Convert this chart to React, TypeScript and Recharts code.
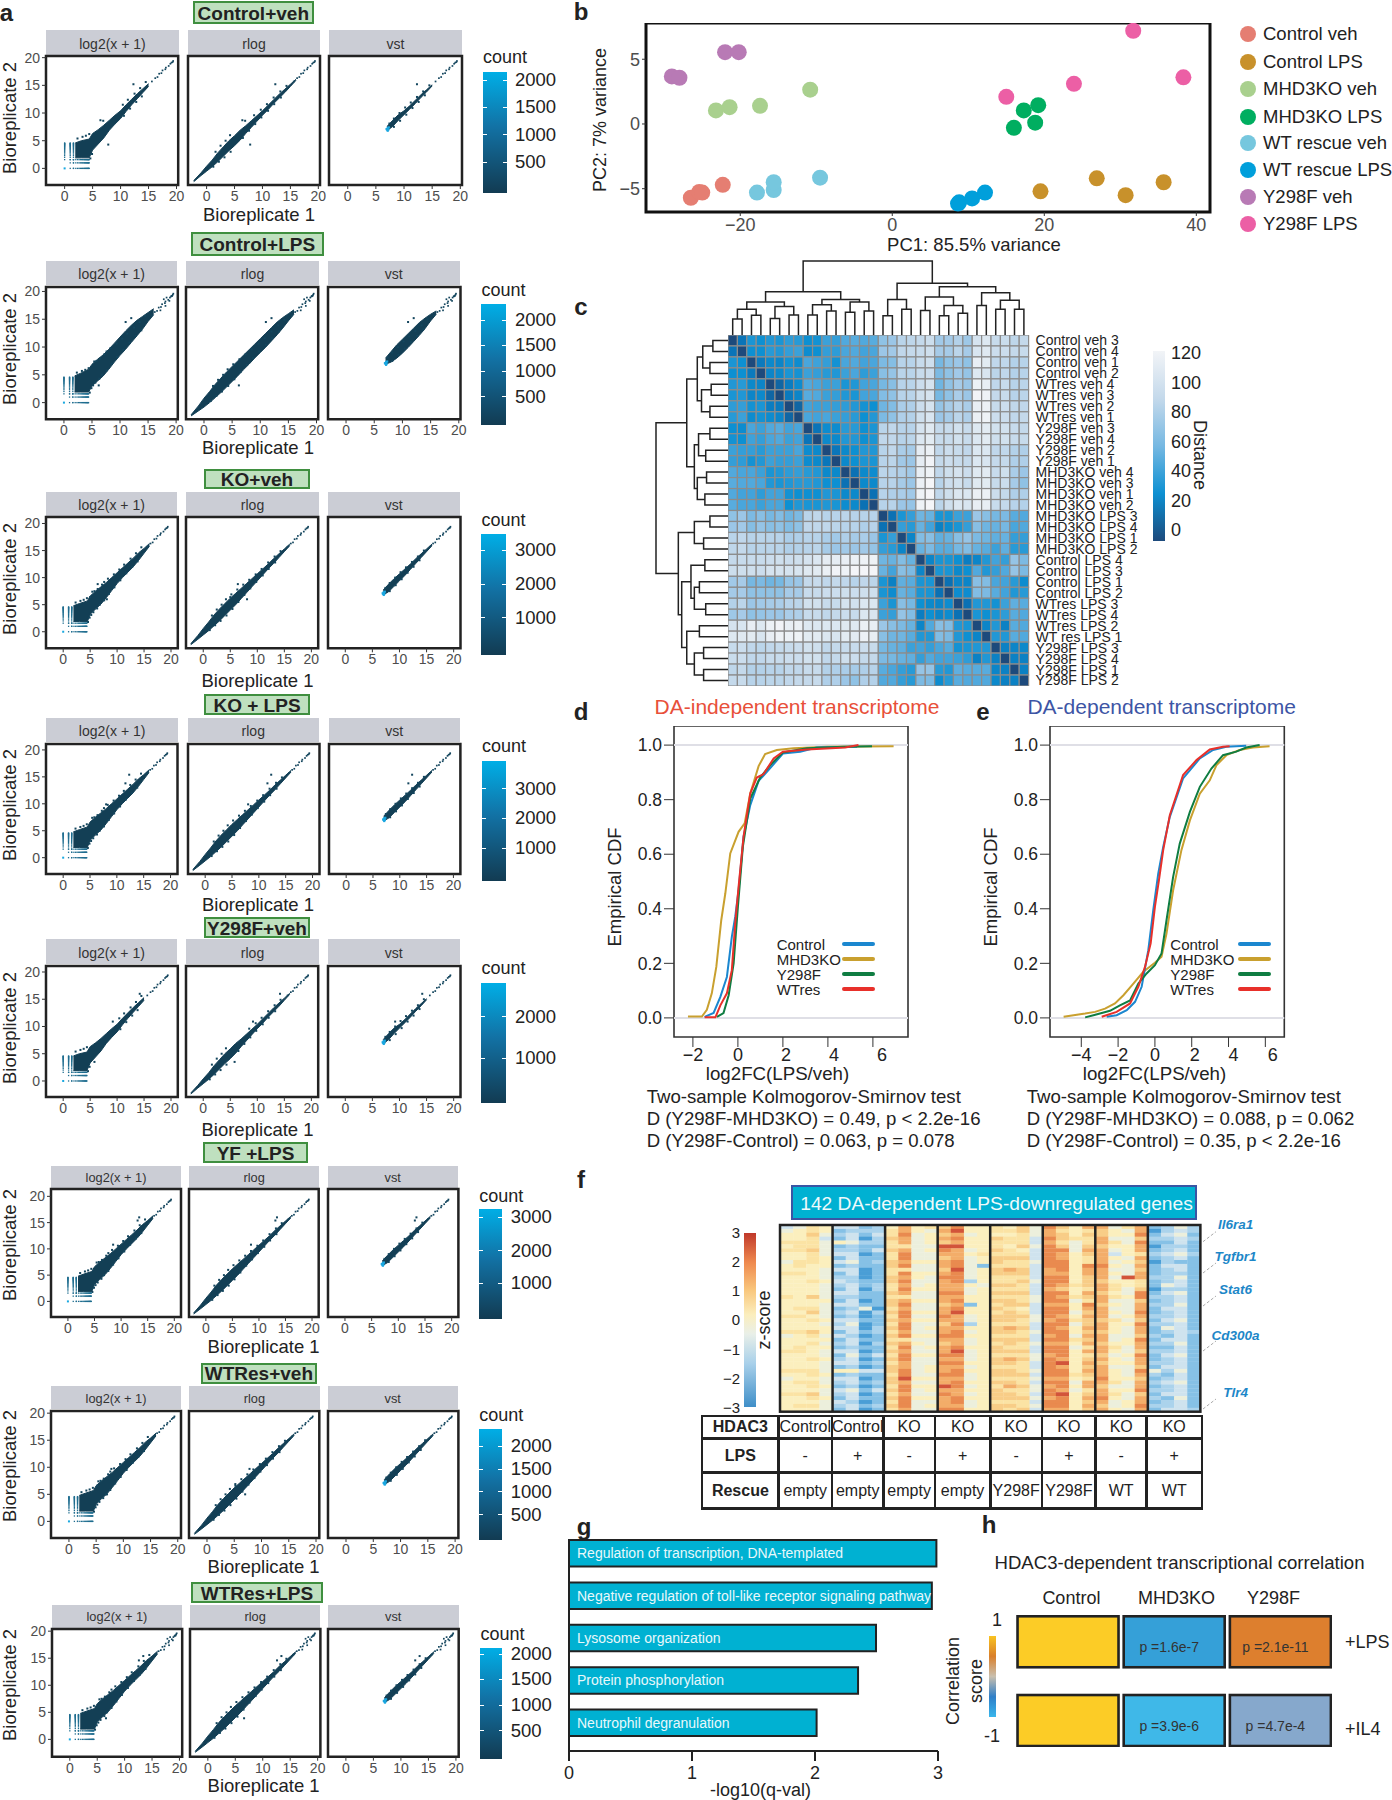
import {
  Area,
  Bar,
  BarChart,
  ComposedChart,
  LabelList,
  Line,
  LineChart,
  ReferenceArea,
  ReferenceLine,
  Scatter,
  ScatterChart,
  XAxis,
  YAxis,
} from "recharts";

const FONT = '"Liberation Sans", Arial, sans-serif';

// ---------- panel a: the hexbin clouds, read as [x, low, high] along the diagonal
const logThin = [[1.9,1.9,4.6],[3,1.9,5],[4.4,1.9,5.3],[5,3.3,6.3],[6,4.4,7],[7,5.5,7.8],[8,6.9,8.7],[9,8,9.6],[10,9,10.4],[11,10.3,11.5],[12,11.5,12.5],[13,12.6,13.5],[14,13.7,14.4],[15,14.8,15.3]];
const logMid = [[1.9,1.9,4.8],[3,1.9,5.2],[4.5,1.9,5.7],[5,3.2,6.6],[6,4.2,7.5],[7,5.1,8.3],[8,6.3,9.1],[9,7.6,10],[10,8.9,10.9],[11,10,11.8],[12,11,12.7],[13,12,13.6],[14,13.2,14.6],[15,14.5,15.4],[16,15.8,16.3]];
const logWide = [[1.9,1.9,4.8],[3,1.9,5.3],[4.4,1.9,6],[5,3,6.9],[6,3.9,7.8],[7,4.8,8.6],[8,6,9.6],[9,7.3,10.7],[10,8.5,11.8],[11,9.6,12.9],[12,10.8,13.9],[13,12,14.8],[14,13.2,15.5],[15,14.6,16.2],[16,15.8,16.9]];
const rlogThin = [[-2.3,-2.4,-2.2],[-1,-1.3,-0.8],[0,-0.5,0.4],[1,0.3,1.5],[2,1.2,2.8],[3,2.2,3.9],[4,3.2,5],[5,4.1,5.9],[6,5.1,6.9],[7,6.3,7.7],[8,7.4,8.6],[9,8.5,9.5],[10,9.6,10.4],[11,10.6,11.4],[12,11.7,12.4],[13,12.7,13.4],[14,13.7,14.3],[15,14.8,15.2],[16,15.9,16.1]];
const rlogMid = [[-2.3,-2.4,-2.2],[-1,-1.4,-0.7],[0,-0.6,0.6],[1,0.2,1.8],[2,1.1,3.1],[3,2,4.2],[4,3,5.2],[5,4,6.2],[6,5,7.1],[7,6.1,8],[8,7.2,8.9],[9,8.3,9.8],[10,9.4,10.7],[11,10.5,11.6],[12,11.6,12.5],[13,12.6,13.5],[14,13.7,14.4],[15,14.8,15.3],[16,15.9,16.2]];
const rlogWide = [[-2.3,-2.4,-2.2],[-1,-1.5,-0.6],[0,-0.8,0.8],[1,0,2],[2,0.9,3.3],[3,1.8,4.4],[4,2.8,5.5],[5,3.8,6.5],[6,4.8,7.5],[7,5.9,8.5],[8,6.9,9.5],[9,8,10.5],[10,9,11.5],[11,10,12.5],[12,11.1,13.5],[13,12.2,14.5],[14,13.4,15.3],[15,14.7,16],[16,15.9,16.7]];
const vstThin = [[7,6.8,7.6],[8,7.6,8.7],[9,8.7,9.7],[10,9.7,10.4],[11,10.7,11.3],[12,11.7,12.3],[13,12.8,13.3],[14,13.8,14.2],[15,14.9,15.1]];
const vstMid = [[7,6.8,7.7],[8,7.4,8.8],[9,8.4,9.8],[10,9.4,10.7],[11,10.4,11.6],[12,11.5,12.5],[13,12.6,13.5],[14,13.7,14.4],[15,14.8,15.3],[16,15.9,16.2]];
const vstWide = [[7,6.9,8],[8,7.3,9.2],[9,8,10.4],[10,8.9,11.4],[11,9.9,12.4],[12,11,13.4],[13,12.1,14.4],[14,13.3,15.2],[15,14.7,15.9],[16,15.9,16.5]];
const cloudSets = { thin: [logThin, rlogThin, vstThin], mid: [logMid, rlogMid, vstMid], wide: [logWide, rlogWide, vstWide] };
const rowCloud = ["thin", "wide", "mid", "mid", "thin", "mid", "mid", "mid"];

// stray hexagons on the rim of the clouds
const logEdge = [[5.4,7.4],[5.8,7.5],[6.4,7.9],[7.2,8.7],[7.6,9.2],[8.3,9.8],[9.4,10.6],[10.4,11.5],[11.3,12.4],[12.5,13.5],[13.5,14.5],[14.5,15.6],[5.2,3.1],[5.6,3.6],[6.3,4.3],[6.8,5],[7.6,5.8],[8.5,7],[9.5,8.2],[10.6,9.5],[11.7,10.8],[12.8,12],[13.8,13],[4.6,1.8],[4.9,2.6],[2.3,5.4],[3.2,5.7],[3.8,5.9],[4.4,6.2]];
const rlogEdge = [[1.6,3],[2.5,4.1],[3.4,5],[4.2,6],[5.2,6.9],[6.3,7.8],[7.4,8.7],[8.5,9.6],[9.7,10.6],[10.8,11.6],[12,12.8],[13.2,13.9],[14.3,14.9],[1.2,0.3],[2.2,1.2],[3.2,2],[4.3,3],[5.4,4.2],[6.5,5.5],[7.6,6.8],[8.7,8],[9.8,9.2],[11,10.4],[12.1,11.6],[13.3,12.8]];
const vstEdge = [[7.4,8.1],[8.2,9],[9.2,10],[10.2,11],[11.2,11.9],[12.3,12.9],[13.4,13.9],[14.5,15],[8.2,7.5],[9.3,8.6],[10.4,9.7],[11.5,10.9],[12.6,12],[13.7,13.2]];
const edgeSets = [logEdge, rlogEdge, vstEdge];

// low count values of log2(x + 1) are discrete
const lowLevels = [1.58,2,2.32,2.58,2.81,3,3.17,3.32,3.46,3.58,3.7,3.81,3.91,4,4.09,4.17,4.25,4.32,4.39,4.46,4.52,4.58];
const lowColumns = [0, 1, 1.58];
const lowRows = [0, 1, 1.58];
const tailDots = [[15.6,15.7],[16.2,16.3],[16.6,16.5],[16.9,17.1],[17.3,17.2],[17.5,17.7],[18,17.9],[18.1,18.2],[18.6,18.5],[18.9,18.9],[19.1,19.1],[19.3,19.2],[19.4,19.4]];
const tailSpread = [[17.8,18.6],[18.3,18.9],[18.8,18.3],[19.2,19.2],[17.2,16.6],[19.5,19.6],[18.1,17.4]];
const vstHot = [[7,7],[7.2,7],[7.1,7.3],[6.9,7.1],[7.3,7.4],[7.1,6.8]];
const rowOutliers = [
  [[12.3,15.2],[6.4,8.7],[6.9,8.6],[7.8,4.3]],
  [[12,15.2],[11,14.5],[6.2,3.1]],
  [[6.4,8.8],[8.1,6],[5,6.4]],
  [[12.3,15.4],[11.6,13.8],[8,9.9]],
  [[14.2,16],[9.2,10.9],[5.8,3.5]],
  [[13.4,16],[13.1,15.4],[8.5,10.8]],
  [[5.2,6.6],[7.8,9.7],[7,5]],
  [[13.4,15.4],[12.6,14.6],[6.6,3.9]],
];
const rowTitles = ["Control+veh", "Control+LPS", "KO+veh", "KO + LPS", "Y298F+veh", "YF +LPS", "WTRes+veh", "WTRes+LPS"];
const facetNames = ["log2(x + 1)", "rlog", "vst"];
const facetTicks = [0, 5, 10, 15, 20];

const aLayout = [
  { box: [193, 1, 313.6, 24], strip: [30, 55], py: [56, 185], xs: [[46.4,178.6],[188,320],[329,462]], lx: [483,507], ly: [72,192.7], countY: 57, tickX: 515, ticks: [["2000",80],["1500",107],["1000",134.7],["500",162]], xlab: [259,215], ylabY: 117.5, dx: [-3.33,20.3], dy: [-3,20.3], sf: 14 },
  { box: [191, 231.7, 323.6, 256], strip: [260.7, 285], py: [286.7, 419], xs: [[45.7,177.5],[186.4,318.6],[327.5,460]], lx: [481.4,505.7], ly: [304,425], countY: 290, tickX: 515, ticks: [["2000",320],["1500",345],["1000",371],["500",396.7]], xlab: [258,448], ylabY: 349, dx: [-3.2,20.3], dy: [-3,20.8], sf: 14 },
  { box: [204, 468.7, 310, 489], strip: [491.7, 515.7], py: [517, 648.3], xs: [[45.7,177.5],[186.4,318.6],[327.5,460]], lx: [481.4,505.7], ly: [534,655], countY: 520, tickX: 515, ticks: [["3000",550],["2000",584],["1000",617.7]], xlab: [257.5,681], ylabY: 579, dx: [-3.19,21.26], dy: [-3.06,21.2], sf: 14 },
  { box: [204, 694.3, 310, 715], strip: [718.3, 742.3], py: [744, 874], xs: [[46.4,177.9],[187.5,319],[328.6,460]], lx: [482,506], ly: [760.7,881], countY: 745.7, tickX: 515, ticks: [["3000",788.7],["2000",818.3],["1000",848.3]], xlab: [258,905], ylabY: 805, dx: [-3.2,21.3], dy: [-3.03,21.1], sf: 14 },
  { box: [204, 917.3, 310, 938.3], strip: [939.3, 964], py: [965.7, 1096.7], xs: [[45.7,177.5],[186.4,318.6],[327.5,460]], lx: [481.4,505.7], ly: [982.7,1103], countY: 968.3, tickX: 515, ticks: [["2000",1016.7],["1000",1058.3]], xlab: [257.5,1130], ylabY: 1027.5, dx: [-3.19,21.26], dy: [-2.94,21.1], sf: 14 },
  { box: [203, 1142.3, 308, 1163.3], strip: [1166, 1188.3], py: [1189.3, 1317.3], xs: [[51,181],[189.3,319],[327.5,457.9]], lx: [479.3,501.8], ly: [1209,1319.3], countY: 1195.7, tickX: 510.7, ticks: [["3000",1217.3],["2000",1250.7],["1000",1283.3]], xlab: [263.6,1346.7], ylabY: 1245, dx: [-3.18,21.26], dy: [-2.97,21.4], sf: 12.8 },
  { box: [201, 1362.7, 316.8, 1384], strip: [1386, 1409.3], py: [1410.7, 1537.7], xs: [[51,181],[189.3,319.6],[327.5,457.9]], lx: [479.3,501.8], ly: [1429,1540], countY: 1415, tickX: 510.7, ticks: [["2000",1446],["1500",1469],["1000",1491.7],["500",1514.7]], xlab: [263.6,1567.3], ylabY: 1466, dx: [-3.3,20.6], dy: [-3.07,20.4], sf: 12.8 },
  { box: [191, 1581.7, 323, 1603.3], strip: [1605, 1627.7], py: [1629, 1756.7], xs: [[51.8,182],[190,320.4],[327.9,458.6]], lx: [480.4,502.5], ly: [1647.7,1759.3], countY: 1634, tickX: 510.7, ticks: [["2000",1654],["1500",1679.3],["1000",1705],["500",1730.7]], xlab: [263.6,1785.7], ylabY: 1685, dx: [-3.25,20.5], dy: [-3.2,20.4], sf: 12.8 },
];

// ---------- panel b
const pcaGroups = ["Control veh", "Control LPS", "MHD3KO veh", "MHD3KO LPS", "WT rescue veh", "WT rescue LPS", "Y298F veh", "Y298F LPS"];
const pcaColors = ["#e57e72", "#c8912b", "#a9d08e", "#00ae60", "#76c7de", "#009fdb", "#b87ab5", "#ec5fa5"];
const pcaPoints = [
  [[-26.5,-5.7],[-25.4,-5.25],[-25,-5.3],[-22.3,-4.7]],
  [[19.5,-5.2],[26.9,-4.2],[30.7,-5.5],[35.7,-4.5]],
  [[-23.2,1.05],[-21.4,1.3],[-17.4,1.4],[-10.8,2.65]],
  [[16,-0.3],[17.3,1.05],[18.8,0.1],[19.2,1.45]],
  [[-17.8,-5.3],[-15.6,-5.1],[-15.6,-4.5],[-9.5,-4.15]],
  [[8.65,-6.15],[8.8,-6.05],[10.5,-5.75],[12.2,-5.3]],
  [[-29,3.67],[-28,3.57],[-22,5.55],[-20.2,5.55]],
  [[15,2.1],[23.9,3.1],[31.7,7.2],[38.3,3.6]],
];

// ---------- panel c: upper triangle of the sample distances, row i starts at column i
const sampleLabels = ["Control veh 3","Control veh 4","Control veh 1","Control veh 2","WTres veh 4","WTres veh 3","WTres veh 2","WTres veh 1","Y298F veh 3","Y298F veh 4","Y298F veh 2","Y298F veh 1","MHD3KO veh 4","MHD3KO veh 3","MHD3KO veh 1","MHD3KO veh 2","MHD3KO LPS 3","MHD3KO LPS 4","MHD3KO LPS 1","MHD3KO LPS 2","Control LPS 4","Control LPS 3","Control LPS 1","Control LPS 2","WTres LPS 3","WTres LPS 4","WTres LPS 2","WT res LPS 1","Y298F LPS 3","Y298F LPS 4","Y298F LPS 1","Y298F LPS 2"];
const distUpper = [
  [0,15,34,30,36,34,40,38,30,32,44,42,50,52,50,52, 68,72,85,87,90,95,74,75,82,73,100,105,92,93,87,90],
  [0,30,30,38,36,42,44,28,30,42,40,48,50,46,48, 72,74,88,90,92,96,76,76,86,76,102,106,94,94,90,92],
  [0,18,26,24,32,28,48,45,42,32,48,50,46,48, 62,65,84,84,92,96,60,68,72,68,112,108,88,88,82,84],
  [0,24,26,34,32,44,42,38,36,44,48,40,44, 66,70,85,85,92,94,62,68,74,70,105,102,86,88,82,84],
  [0,10,20,28,50,48,44,44,34,36,46,48, 60,66,84,85,94,100,58,68,76,72,115,112,88,92,84,86],
  [0,18,24,52,50,44,42,36,34,46,48, 64,68,84,85,96,100,60,68,78,72,118,116,90,92,84,86],
  [0,10,46,44,44,42,40,36,32,30, 58,64,78,80,94,100,70,76,84,78,112,115,92,94,88,88],
  [0,48,46,48,44,42,38,30,36, 62,68,80,82,96,102,72,76,86,80,114,116,94,94,88,90],
  [0,15,28,28,38,38,30,34, 85,88,84,84,100,106,90,92,98,92,105,108,98,98,92,90],
  [0,26,26,36,36,30,34, 88,88,84,86,104,108,92,92,98,92,104,108,96,98,92,92],
  [0,16,26,30,36,36, 84,88,78,76,110,114,88,94,92,88,104,104,88,88,82,80],
  [0,26,30,34,34, 84,86,74,72,110,118,90,94,92,90,104,102,90,90,80,80],
  [0,14,26,28, 86,84,80,74,112,116,88,96,100,94,106,108,92,96,78,72],
  [0,26,26, 84,84,76,72,114,120,84,94,98,92,106,108,92,94,76,68],
  [0,14, 84,80,78,74,116,124,88,96,104,104,114,115,94,90,80,80],
  [0, 84,84,72,70,116,126,86,96,104,102,112,112,92,90,84,82],
  [0,14,34,42,58,56,34,34,44,44,72,66,60,62,52,50],
  [0,42,38,56,46,22,28,34,42,66,58,56,60,48,50],
  [0,24,64,66,54,56,66,70,62,58,54,56,42,42],
  [0,56,62,52,52,60,64,56,52,44,54,38,38],
  [0,24,34,34,30,20,24,36,46,42,70,62],
  [0,34,34,26,30,50,36,42,50,70,62],
  [0,14,24,24,66,64,48,46,38,28],
  [0,28,28,64,62,52,46,36,38],
  [0,14,36,36,32,44,54,52],
  [0,34,30,34,40,52,50],
  [0,24,36,22,52,50],
  [0,36,36,52,50],
  [0,22,24,26],
  [0,22,22],
  [0,22],
  [0],
];
const distStops = [[0,"#1d4a7c"],[15,"#0a74b8"],[30,"#0d90d2"],[45,"#3ea2da"],[60,"#76b8e2"],[75,"#a4cae8"],[90,"#c4d9eb"],[105,"#dde8f1"],[120,"#f4f5f8"]];
const distTicks = [["120",353],["100",383],["80",412],["60",441.7],["40",471],["20",500.7],["0",530]];

// dendrograms: [height, left, right], leaves are row numbers
const topTree = [218,[128,[98,[77,[48,0,1],[59,2,3]],[85,[50,4,5],[60,6,7]]],[105,[90,[60,8,9],[72,10,11]],[98,[68,12,13],[72,14,15]]]],[153,[105,[58,16,17],[77,18,19]],[143,[113,[73,20,21],[88,[58,22,23],[65,24,25]]],[125,[88,26,27],[103,[77,28,29],[77,30,31]]]]]];
const leftTree = [173,[100,[75,[62,[38,0,1],[45,2,3]],[65,[42,4,5],[45,6,7]]],[82,[72,[45,8,9],[55,10,11]],[75,[53,12,13],[57,14,15]]]],[120,[82,[45,16,17],[60,18,19]],[112,[90,[57,20,21],[82,[70,22,23],[55,24,25]]],[100,[70,26,27],[82,[60,28,29],[60,30,31]]]]]];

// ---------- panels d, e: empirical CDFs as [log2FC, F]
const cdfNames = ["Control", "MHD3KO", "Y298F", "WTres"];
const cdfColors = ["#1b87cf", "#c9a02f", "#0f7d42", "#e8302a"];
const indepControl = [[-1.48,.004],[-1.08,.018],[-.78,.077],[-.49,.15],[-.27,.297],[-.12,.37],[.03,.468],[.25,.664],[.55,.78],[.92,.869],[1.29,.902],[2,.969],[2.77,.976],[3.5,.991],[5.3,.994]];
const indepKO = [[-2.22,.005],[-1.6,.005],[-1.38,.03],[-1.16,.09],[-.96,.187],[-.74,.358],[-.56,.456],[-.34,.603],[.03,.682],[.3,.713],[.55,.823],[.92,.923],[1.21,.967],[1.73,.982],[2.47,.988],[3.96,.994],[6.92,.996]];
const indepY298F = [[-.93,.004],[-.64,.018],[-.41,.083],[-.19,.2],[0,.407],[.22,.627],[.55,.804],[.99,.881],[1.44,.927],[2,.973],[3.07,.988],[4.7,.994],[5.96,.996]];
const indepWT = [[-1.48,.002],[-1,.002],[-.78,.046],[-.49,.09],[-.27,.175],[-.12,.346],[.03,.48],[.25,.664],[.55,.823],[.84,.881],[1.14,.894],[1.59,.951],[2,.976],[3.07,.984],[4.77,.991],[5.36,1]];
const depControl = [[-2.62,.004],[-2.08,.01],[-1.53,.028],[-1.08,.059],[-.72,.114],[-.36,.248],[-.09,.395],[.18,.529],[.45,.627],[.81,.737],[1.53,.878],[2.44,.951],[3.16,.982],[3.88,.994],[4.96,.998]];
const depKO = [[-4.96,.004],[-4.42,.01],[-3.79,.016],[-3.25,.022],[-2.71,.034],[-2.17,.053],[-1.71,.083],[-1.17,.126],[-.63,.169],[0,.202],[.36,.224],[.63,.309],[.99,.468],[1.44,.615],[1.9,.724],[2.44,.822],[2.98,.871],[3.34,.926],[3.88,.963],[4.6,.982],[5.32,.991],[6.23,.996]];
const depY298F = [[-3.79,.002],[-3.34,.01],[-2.44,.026],[-1.9,.046],[-1.35,.064],[-.9,.126],[-.45,.163],[0,.193],[.36,.236],[.63,.358],[.99,.517],[1.35,.639],[1.9,.755],[2.44,.847],[3.07,.914],[3.7,.963],[4.42,.976],[4.96,.991],[5.69,1]];
const depWT = [[-2.89,.004],[-2.08,.022],[-1.35,.053],[-.9,.114],[-.54,.187],[-.23,.273],[0,.407],[.22,.505],[.45,.615],[.81,.743],[1.53,.89],[2.26,.945],[2.98,.984],[3.7,.994],[4.06,.996]];

// ---------- panel f: z-score level of each sample, one string per gene band
const zBands = [
  "3465 3312 5856 7955 6574 9758 8468 1242",
  "4565 1222 6854 8a55 6674 8656 7548 0232",
  "5574 2313 6945 7845 5564 8757 7559 1341",
  "5563 1302 7845 8955 7663 9766 8447 2232",
  "6664 5422 6845 7855 6663 8646 8649 1131",
  "5664 1211 6644 aa55 6574 9747 7558 0221",
  "6674 2213 7845 9845 7653 9948 8458 1231",
  "5564 3301 6944 8856 6663 9857 8356 2342",
  "5565 1311 6944 7845 7773 9856 8548 1231",
  "4665 3412 7855 8945 7664 9956 8457 0211",
  "5655 1211 7944 8941 6663 9959 9548 1331",
  "5554 3301 6644 7a45 7873 8958 8447 1231",
  "6654 1301 6955 8945 7773 8858 8548 1221",
  "5554 2201 7854 9945 6663 9957 84a8 2241",
  "5565 3211 7944 8925 6674 9957 7556 1231",
  "5554 2312 6845 8854 7763 9867 8656 1431",
  "5554 1302 6955 8845 6663 8756 8647 0221",
  "5554 3311 7844 9945 7773 9958 7549 1341",
  "6574 2211 6644 8855 6664 9867 8659 2231",
  "5555 1301 7855 8955 7764 9946 8447 1231",
  "5554 3311 7944 7815 6773 8859 7548 2241",
  "5664 1240 6844 8955 7653 9958 8448 1331",
  "5574 2302 7955 8a55 6763 9947 8549 1231",
  "6654 1201 6944 9845 7774 9858 8458 2231",
  "5565 3311 7855 8845 7764 8967 7647 1341",
  "5554 2401 6944 7925 6663 9947 8559 2231",
  "5555 3302 7945 8855 7873 9858 8548 1431",
  "6675 1312 6844 8945 7764 9957 7548 1232",
  "4564 3201 7955 9955 6663 8948 8447 2131",
  "5555 1311 6644 8845 7773 9967 8459 1331",
  "5564 2302 7854 7845 6764 8858 7558 2241",
  "5655 1211 6945 8955 7663 9946 8648 1131",
  "6654 3301 7844 8a45 7773 9958 8547 2231",
  "5554 1413 6955 9945 6664 8956 7459 1341",
  "5565 2301 7944 8845 7874 9857 8548 1231",
  "5554 3312 6844 9955 7763 9a58 7558 2231",
  "5554 1201 7845 8845 6663 9857 8447 1331",
  "6664 5533 7945 8955 7764 9958 8549 4241",
  "5565 1211 6944 9945 7773 9967 8548 2131",
  "4554 3301 7a55 8845 6664 8856 9557 1231",
  "5664 2312 7844 8955 7763 9948 8648 2341",
  "5565 1201 6955 a945 6874 8958 7448 1231",
  "5554 3413 7945 8855 7664 9846 8559 2231",
  "6674 2301 6844 9845 7763 9a57 8647 1331",
  "5565 1311 7955 8955 7774 8958 9548 2141",
  "5554 3201 6944 8945 6663 9957 8458 1231",
  "5664 2312 7945 8845 7764 9958 7459 2231",
  "5554 1301 6844 9955 7673 8857 8548 1332",
].map((row) => row.replace(/ /g, ""));
const zPalette = ["#4a9ed6", "#86c1e6", "#abd3ec", "#cfe3ee", "#ecefdc", "#fbefbe", "#fbe3a4", "#f8cd87", "#f3ad69", "#e98a4f", "#d2543a"];
const zTicks = [["3",1232],["2",1261],["1",1290],["0",1319],["−1",1348.7],["−2",1378],["−3",1406.7]];
const zGroupEdges = [4, 8, 12, 16, 20, 24, 28];
const genes = [["Il6ra1",1225,1241.7],["Tgfbr1",1257,1273],["Stat6",1290,1306],["Cd300a",1335.7,1351],["Tlr4",1392.7,1409]];
const tableRows = [
  ["HDAC3", "Control", "Control", "KO", "KO", "KO", "KO", "KO", "KO"],
  ["LPS", "-", "+", "-", "+", "-", "+", "-", "+"],
  ["Rescue", "empty", "empty", "empty", "empty", "Y298F", "Y298F", "WT", "WT"],
];
const tableX = [702.2, 778.5, 832, 883.4, 934.8, 990.3, 1042, 1095.7, 1146.7, 1201.8];
const tableY = [1416, 1438.3, 1472.7, 1508.3];

// ---------- panel g
const goTerms = ["Regulation of transcription, DNA-templated", "Negative regulation of toll-like receptor signaling pathway", "Lysosome organization", "Protein phosphorylation", "Neutrophil degranulation"];
const goValues = [2.987, 2.95, 2.496, 2.35, 2.013];

// ---------- panel h
const corrColumns = ["Control", "MHD3KO", "Y298F"];
const corrRows = ["+LPS", "+IL4"];
const corrFills = [["#fccc26", "#35a0d8", "#dd7f2e"], ["#fccc26", "#3fb8e8", "#86a8cc"]];
const corrPvals = [["", "p =1.6e-7", "p =2.1e-11"], ["", "p =3.9e-6", "p =4.7e-4"]];

function hexToRgb(h) {
  return [1, 3, 5].map((i) => parseInt(h.slice(i, i + 2), 16));
}
function distColor(v) {
  for (let i = 1; i < distStops.length; i++) {
    if (v <= distStops[i][0]) {
      const [a, ca] = distStops[i - 1];
      const [b, cb] = distStops[i];
      const t = (v - a) / (b - a);
      const x = hexToRgb(ca);
      const y = hexToRgb(cb);
      return `rgb(${x.map((c, k) => Math.round(c + (y[k] - c) * t)).join(",")})`;
    }
  }
  return distStops[distStops.length - 1][1];
}

// one bracket per merge: up from the left child, across, down to the right child
function treeLinks(node, out) {
  if (typeof node === "number") return { pos: node + 0.5, h: 0 };
  const a = treeLinks(node[1], out);
  const b = treeLinks(node[2], out);
  out.push([[a.pos, a.h], [a.pos, node[0]], [b.pos, node[0]], [b.pos, b.h]]);
  return { pos: (a.pos + b.pos) / 2, h: node[0] };
}

function T({ x, y, children, size = 14, color = "#222", bold = false, italic = false, rot = 0, anchor = "middle" }: any) {
  const tx = anchor === "middle" ? "-50%" : anchor === "end" ? "-100%" : "0";
  return (
    <div
      style={{
        position: "absolute",
        left: x,
        top: y,
        transform: `translate(${tx}, -50%) rotate(${rot}deg)`,
        fontFamily: FONT,
        fontSize: size,
        fontWeight: bold ? "bold" : "normal",
        fontStyle: italic ? "italic" : "normal",
        color,
        whiteSpace: "nowrap",
        lineHeight: 1,
      }}
    >
      {children}
    </div>
  );
}

function Box({ x1, y1, x2, y2, style }: any) {
  return <div style={{ position: "absolute", left: x1, top: y1, width: x2 - x1, height: y2 - y1, boxSizing: "border-box", ...style }} />;
}

const dotShape = (fill, size = 1.7) => (p) => <rect x={p.cx - size / 2} y={p.cy - size / 2} width={size} height={size} fill={fill} />;

function Facet({ row, col }: any) {
  const L = aLayout[row];
  const [x1, x2] = L.xs[col];
  const [y1, y2] = L.py;
  const kind = rowCloud[row];
  const cloud = cloudSets[kind][col].map(([x, lo, hi]) => ({ x, band: [lo, hi] }));
  const tail = (row === 1 || row === 7 ? tailDots.concat(tailSpread) : tailDots).map(([x, y]) => ({ x, y }));
  const outliers = rowOutliers[row].filter(([x]) => col < 2 || x > 9).map(([x, y]) => ({ x, y }));
  const edge = edgeSets[col].filter(([x, y]) => kind !== "thin" || Math.abs(y - x) < 1.1 || x < 5).map(([x, y]) => ({ x, y }));
  const left = col === 0 ? 34 : 4;
  const lowDots = [];
  if (col === 0) {
    lowColumns.forEach((x) => lowLevels.forEach((y) => lowDots.push({ x, y })));
    lowRows.forEach((y) => lowLevels.slice(0, 19).forEach((x) => lowDots.push({ x, y })));
    lowColumns.slice(1).forEach((x) => lowRows.forEach((y) => lowDots.push({ x, y })));
  }
  return (
    <div style={{ position: "absolute", left: x1 - left, top: y1 - 6 }}>
      <ComposedChart
        width={x2 - x1 + left + 14}
        height={y2 - y1 + 6 + 26}
        data={cloud}
        margin={{ top: 6, right: 14, bottom: 0, left: col === 0 ? 0 : left }}
      >
        <XAxis dataKey="x" type="number" domain={L.dx} allowDataOverflow ticks={facetTicks} interval={0} height={26} tick={{ fill: "#4d4d4d", fontSize: 14, fontFamily: FONT }} tickSize={4} tickMargin={2} stroke="#333" axisLine={false} />
        <YAxis dataKey="y" type="number" domain={L.dy} allowDataOverflow ticks={facetTicks} interval={0} width={col === 0 ? 34 : 0} hide={col !== 0} tick={{ fill: "#4d4d4d", fontSize: 14, fontFamily: FONT }} tickSize={4} tickMargin={2} stroke="#333" axisLine={false} />
        <Area dataKey="band" type="linear" fill="#133f55" fillOpacity={1} stroke="#133f55" strokeWidth={1} dot={false} activeDot={false} isAnimationActive={false} />
        <Scatter data={edge} shape={dotShape("#14465e", 2)} isAnimationActive={false} />
        <Scatter data={tail} shape={dotShape("#14465e")} isAnimationActive={false} />
        <Scatter data={outliers} shape={dotShape("#14465e", 2)} isAnimationActive={false} />
        {col === 0 && <Scatter data={lowDots} shape={dotShape("#1f6d8f", 1.3)} isAnimationActive={false} />}
        {col === 0 && <Scatter data={[{ x: 0, y: 0 }]} shape={dotShape("#19a8e0", 2)} isAnimationActive={false} />}
        {col === 2 && <Scatter data={vstHot.map(([x, y]) => ({ x, y }))} shape={dotShape("#1aa7e0", 2.2)} isAnimationActive={false} />}
        <ReferenceArea x1={L.dx[0]} x2={L.dx[1]} y1={L.dy[0]} y2={L.dy[1]} fill="none" stroke="#222" strokeWidth={2.5} ifOverflow="visible" />
      </ComposedChart>
    </div>
  );
}

function FacetRow({ row }: any) {
  const L = aLayout[row];
  return (
    <>
      <Box x1={L.box[0]} y1={L.box[1]} x2={L.box[2]} y2={L.box[3]} style={{ background: "#bfe0bf", border: "2px solid #3f8f3f" }} />
      <T x={(L.box[0] + L.box[2]) / 2} y={(L.box[1] + L.box[3]) / 2} size={19} bold>{rowTitles[row]}</T>
      {L.xs.map(([x1, x2], i) => (
        <div key={i}>
          <Box x1={x1} y1={L.strip[0]} x2={x2} y2={L.strip[1]} style={{ background: "#cbcdd5" }} />
          <T x={(x1 + x2) / 2} y={(L.strip[0] + L.strip[1]) / 2 + 1} size={L.sf} color="#333">{facetNames[i]}</T>
          <Facet row={row} col={i} />
        </div>
      ))}
      <T x={10} y={L.ylabY} size={18.5} rot={-90}>Bioreplicate 2</T>
      <T x={L.xlab[0]} y={L.xlab[1]} size={18.5}>Bioreplicate 1</T>
      <T x={L.lx[0]} y={L.countY} size={18} anchor="start">count</T>
      <Box x1={L.lx[0]} y1={L.ly[0]} x2={L.lx[1]} y2={L.ly[1]} style={{ background: "linear-gradient(to bottom, #00aee6 0%, #1272a5 45%, #123b52 100%)" }} />
      {L.ticks.map(([t, y]) => (
        <div key={t}>
          <Box x1={L.lx[0]} y1={y - 0.5} x2={L.lx[0] + 4} y2={y + 0.5} style={{ background: "#fff" }} />
          <Box x1={L.lx[1] - 4} y1={y - 0.5} x2={L.lx[1]} y2={y + 0.5} style={{ background: "#fff" }} />
          <T x={L.tickX} y={y} size={18.5} anchor="start">{t}</T>
        </div>
      ))}
    </>
  );
}

function PcaPanel() {
  return (
    <>
      <div style={{ position: "absolute", left: 646 - 46, top: 23 }}>
        <ScatterChart width={564 + 46 + 14} height={189 + 26} margin={{ top: 0, right: 14, bottom: 0, left: 0 }}>
          <XAxis dataKey="x" type="number" domain={[-32.4, 41.8]} allowDataOverflow ticks={[-20, 0, 20, 40]} interval={0} height={26} tickSize={4} tickMargin={2} stroke="#333" axisLine={false} tick={{ fill: "#4d4d4d", fontSize: 18, fontFamily: FONT }} tickFormatter={(v) => String(v).replace("-", "−")} />
          <YAxis dataKey="y" type="number" domain={[-6.8, 7.8]} allowDataOverflow ticks={[-5, 0, 5]} interval={0} width={46} tickSize={4} tickMargin={2} stroke="#333" axisLine={false} tick={{ fill: "#4d4d4d", fontSize: 18, fontFamily: FONT }} tickFormatter={(v) => String(v).replace("-", "−")} />
          {pcaPoints.map((pts, i) => (
            <Scatter key={pcaGroups[i]} data={pts.map(([x, y]) => ({ x, y }))} isAnimationActive={false} shape={(p) => <circle cx={p.cx} cy={p.cy} r={8} fill={pcaColors[i]} />} />
          ))}
          <ReferenceArea x1={-32.4} x2={41.8} y1={-6.8} y2={7.8} fill="none" stroke="#111" strokeWidth={3} ifOverflow="visible" />
        </ScatterChart>
      </div>
      <T x={974} y={245} size={18.5}>PC1: 85.5% variance</T>
      <T x={600} y={120} size={18} rot={-90}>PC2: 7% variance</T>
      {pcaGroups.map((g, i) => {
        const y = [34, 62, 89, 117, 143, 170, 197, 224][i];
        return (
          <div key={g}>
            <Box x1={1240} y1={y - 8} x2={1256} y2={y + 8} style={{ background: pcaColors[i], borderRadius: "50%" }} />
            <T x={1263} y={y} size={18.5} anchor="start">{g}</T>
          </div>
        );
      })}
    </>
  );
}

function Dendro({ tree, vertical, left, top, width, height, maxH }: any) {
  const links = [];
  treeLinks(tree, links);
  return (
    <div style={{ position: "absolute", left: left - 1, top: top - 1 }}>
      <LineChart width={width + 2} height={height + 2} margin={{ top: 1, right: 1, bottom: 1, left: 1 }}>
        {vertical ? <XAxis type="number" dataKey="x" domain={[0, 32]} hide /> : <XAxis type="number" dataKey="x" domain={[0, maxH]} reversed hide />}
        {vertical ? <YAxis type="number" dataKey="y" domain={[0, maxH]} hide /> : <YAxis type="number" dataKey="y" domain={[0, 32]} reversed hide />}
        {links.map((path, i) => (
          <Line
            key={i}
            data={path.map(([pos, h]) => (vertical ? { x: pos, y: h } : { x: h, y: pos }))}
            dataKey="y"
            type="linear"
            stroke="#222"
            strokeWidth={1.5}
            dot={false}
            activeDot={false}
            isAnimationActive={false}
          />
        ))}
      </LineChart>
    </div>
  );
}

function DistPanel() {
  const cells = [];
  distUpper.forEach((r, i) =>
    r.forEach((v, k) => {
      const j = i + k;
      cells.push({ x: j + 0.5, y: i + 0.5, v });
      if (i !== j) cells.push({ x: i + 0.5, y: j + 0.5, v });
    })
  );
  const cw = 300.6 / 32;
  const ch = 351 / 32;
  return (
    <>
      <Dendro tree={topTree} vertical left={728.4} top={260.5} width={300.6} height={74.5} maxH={218} />
      <Dendro tree={leftTree} vertical={false} left={655.5} top={335} width={72.9} height={351} maxH={173} />
      <div style={{ position: "absolute", left: 728.4, top: 335 }}>
        <ScatterChart width={300.6 + 140} height={351} margin={{ top: 0, right: 0, bottom: 0, left: 0 }}>
          <XAxis dataKey="x" type="number" domain={[0, 32]} hide />
          <YAxis
            dataKey="y"
            type="number"
            domain={[0, 32]}
            reversed
            orientation="right"
            width={140}
            ticks={sampleLabels.map((_, i) => i + 0.5)}
            interval={0}
            tickLine={false}
            axisLine={false}
            tickSize={0}
            tickMargin={7}
            tick={{ fill: "#222", fontSize: 14, fontFamily: FONT }}
            tickFormatter={(v) => sampleLabels[Math.floor(v)]}
          />
          <Scatter data={cells} isAnimationActive={false} shape={(p) => <rect x={p.cx - cw / 2} y={p.cy - ch / 2} width={cw} height={ch} fill={distColor(p.payload.v)} stroke="#8c8c8c" strokeWidth={1.2} />} />
        </ScatterChart>
      </div>
      <Box x1={1152.6} y1={350.7} x2={1165} y2={541} style={{ background: `linear-gradient(to bottom, #f2f4f7 0%, #c4d9eb 25%, #76b8e2 50%, #0d90d2 75%, #1d4a7c 100%)` }} />
      {distTicks.map(([t, y]) => <T key={t} x={1171} y={y} size={18} anchor="start">{t}</T>)}
      <T x={1200} y={455} size={18} rot={90}>Distance</T>
    </>
  );
}

const tickShift = (shifts) => (p) => (
  <text x={p.x + (shifts[p.payload.value] || 0)} y={p.y + 12} textAnchor="middle" fill="#222" fontSize={18} fontFamily={FONT}>
    {String(p.payload.value).replace("-", "−")}
  </text>
);

function CdfPanel({ left, width, domain, xTicks, shifts, series, title, titleColor, titleX, ks, ksX, labX, ylX, legendText, legendLine, letterX, letter }: any) {
  const yDomain = [-0.07, 1.07];
  return (
    <>
      <T x={letterX} y={712} size={24} bold>{letter}</T>
      <T x={titleX} y={706} size={21} color={titleColor}>{title}</T>
      <div style={{ position: "absolute", left: left - 44, top: 725.7 }}>
        <LineChart width={width + 44 + 12} height={311 + 30} margin={{ top: 0, right: 12, bottom: 0, left: 0 }}>
          <XAxis dataKey="x" type="number" domain={domain} allowDataOverflow ticks={xTicks} interval={0} height={30} tickSize={10} stroke="#333" axisLine={false} tick={tickShift(shifts)} />
          <YAxis dataKey="y" type="number" domain={yDomain} allowDataOverflow ticks={[0, 0.2, 0.4, 0.6, 0.8, 1]} interval={0} width={44} tickSize={10} tickMargin={2} stroke="#333" axisLine={false} tick={{ fill: "#222", fontSize: 17.5, fontFamily: FONT }} tickFormatter={(v) => v.toFixed(1)} />
          <ReferenceLine y={0} stroke="#dfdfe6" strokeWidth={2} />
          <ReferenceLine y={1} stroke="#dfdfe6" strokeWidth={2} />
          {[1, 0, 2, 3].map((i) => (
            <Line key={cdfNames[i]} data={series[i].map(([x, y]) => ({ x, y }))} dataKey="y" type="linear" stroke={cdfColors[i]} strokeWidth={2} dot={false} activeDot={false} isAnimationActive={false} />
          ))}
          <ReferenceArea x1={domain[0]} x2={domain[1]} y1={yDomain[0]} y2={yDomain[1]} fill="none" stroke="#333" strokeWidth={1.6} ifOverflow="visible" />
        </LineChart>
      </div>
      <T x={ylX} y={887} size={18.5} rot={-90}>Empirical CDF</T>
      <T x={labX} y={1074} size={18.7}>log2FC(LPS/veh)</T>
      {cdfNames.map((n, i) => {
        const y = [944, 958.7, 974, 989][i];
        return (
          <div key={n}>
            <T x={legendText} y={y} size={15} anchor="start" color="#222">{n}</T>
            <Box x1={legendLine[0]} y1={y - 2} x2={legendLine[1]} y2={y + 2} style={{ background: cdfColors[i], borderRadius: 2 }} />
          </div>
        );
      })}
      {ks.map((line, i) => <T key={i} x={ksX} y={[1096.7, 1119, 1141][i]} size={18.6} anchor="start">{line}</T>)}
    </>
  );
}

function ZPanel() {
  const cells = [];
  zBands.forEach((row, r) => [...row].forEach((c, k) => cells.push({ x: k + 0.5, y: r + 0.5, v: parseInt(c, 11) })));
  const W = 420.4;
  const H = 186.7;
  const n = zBands.length;
  const cw = W / 32;
  const ch = H / n;
  const middle = n / 2;
  return (
    <>
      <Box x1={791} y1={1185} x2={1197} y2={1220} style={{ background: "#00b1d2", border: "2px solid #3a55a4" }} />
      <T x={996.5} y={1204} size={19.2} color="#eefafc">142 DA-dependent LPS-downregulated genes</T>
      <div style={{ position: "absolute", left: 779.6 - 2, top: 1225 - 2 }}>
        <ScatterChart width={W + 4} height={H + 4} margin={{ top: 2, right: 2, bottom: 2, left: 2 }}>
          <XAxis dataKey="x" type="number" domain={[0, 32]} hide />
          <YAxis dataKey="y" type="number" domain={[0, n]} reversed hide />
          <Scatter data={cells} isAnimationActive={false} shape={(p) => <rect x={p.cx - cw / 2} y={p.cy - ch / 2} width={cw + 0.3} height={ch + 0.3} fill={zPalette[p.payload.v]} />} />
          <Scatter data={zGroupEdges.map((x) => ({ x, y: middle }))} isAnimationActive={false} shape={(p) => <rect x={p.cx - 1.25} y={p.cy - H / 2} width={2.5} height={H} fill="#222" />} />
          <Scatter data={[{ x: 16, y: middle }]} isAnimationActive={false} shape={(p) => <rect x={p.cx - W / 2} y={p.cy - H / 2} width={W} height={H} fill="none" stroke="#222" strokeWidth={2.5} />} />
        </ScatterChart>
      </div>
      <Box x1={744} y1={1232.7} x2={756} y2={1407} style={{ background: "linear-gradient(to bottom, #c0392b 0%, #ef8a4f 17%, #f9c77d 33%, #fbeebd 47%, #e9efe8 58%, #a8d0ea 75%, #3f8fc8 100%)" }} />
      {zTicks.map(([t, y]) => <T key={t} x={740} y={y} size={15} anchor="end">{t}</T>)}
      <T x={764} y={1320} size={18} rot={-90}>z-score</T>
      {genes.map(([g, y]) => <T key={g} x={1235.6} y={y} size={13.5} bold italic color="#1d87c8">{g}</T>)}
      <svg style={{ position: "absolute", left: 0, top: 0, pointerEvents: "none" }} width={1392} height={1800}>
        {genes.map(([g, , y]) => <line key={g} x1={1203} y1={y} x2={1216} y2={y - 10} stroke="#aaa" strokeWidth={1} strokeDasharray="3 2" />)}
      </svg>
      {tableX.map((x) => <Box key={x} x1={x - 1.25} y1={tableY[0] - 1.25} x2={x + 1.25} y2={tableY[3] + 1.25} style={{ background: "#222" }} />)}
      {tableY.map((y) => <Box key={y} x1={tableX[0] - 1.25} y1={y - 1.25} x2={tableX[9] + 1.25} y2={y + 1.25} style={{ background: "#222" }} />)}
      {tableRows.map((row, r) =>
        row.map((t, c) => (
          <T key={`${r}-${c}`} x={(tableX[c] + tableX[c + 1]) / 2} y={(tableY[r] + tableY[r + 1]) / 2} size={16} bold={c === 0}>{t}</T>
        ))
      )}
    </>
  );
}

function GoPanel() {
  const data = goTerms.map((name, i) => ({ name, value: goValues[i] }));
  return (
    <>
      <div style={{ position: "absolute", left: 569 - 12, top: 1531.8 }}>
        <BarChart width={369 + 14 + 12} height={219 + 34} data={data} layout="vertical" margin={{ top: 0, right: 14, bottom: 0, left: 12 }} barCategoryGap={0}>
          <XAxis type="number" domain={[0, 3]} ticks={[0, 1, 2, 3]} interval={0} height={34} tickSize={10} stroke="#222" strokeWidth={2} tick={{ fill: "#222", fontSize: 18, fontFamily: FONT }} tickMargin={5} />
          <YAxis type="category" dataKey="name" hide padding={{ top: 0, bottom: 7 }} />
          <Bar dataKey="value" barSize={26.5} fill="#00b1d2" stroke="#222" strokeWidth={2} isAnimationActive={false}>
            <LabelList
              dataKey="name"
              content={(p) => (
                <text x={p.x + 8} y={p.y + p.height / 2 + 5} fill="#e8f8fb" fontSize={14} fontFamily={FONT}>
                  {p.value}
                </text>
              )}
            />
          </Bar>
        </BarChart>
      </div>
      <Box x1={568} y1={1540} x2={570} y2={1751} style={{ background: "#222" }} />
      <T x={760.5} y={1790} size={18}>-log10(q-val)</T>
    </>
  );
}

function CorrPanel() {
  const cells = [];
  corrFills.forEach((r, y) => r.forEach((fill, x) => cells.push({ x, y, fill, p: corrPvals[y][x] })));
  return (
    <>
      <T x={1179.5} y={1563.3} size={18.6}>HDAC3-dependent transcriptional correlation</T>
      {corrColumns.map((c, i) => <T key={c} x={[1071.4, 1176.5, 1273.5][i]} y={1598} size={18}>{c}</T>)}
      <div style={{ position: "absolute", left: 1016, top: 1615 }}>
        <ScatterChart width={316.4} height={132.3} margin={{ top: 0, right: 0, bottom: 0, left: 0 }}>
          <XAxis dataKey="x" type="number" domain={[-0.49, 2.49]} hide />
          <YAxis dataKey="y" type="number" domain={[-0.34, 1.34]} reversed hide />
          <Scatter
            data={cells}
            isAnimationActive={false}
            shape={(p) => (
              <g>
                <rect x={p.cx - 50.5} y={p.cy - 25.5} width={101} height={51} fill={p.payload.fill} stroke="#222" strokeWidth={2.6} />
                <text x={p.cx - 5} y={p.cy + 10} textAnchor="middle" fontSize={14} fill="#333" fontFamily={FONT}>{p.payload.p}</text>
              </g>
            )}
          />
        </ScatterChart>
      </div>
      <T x={1345} y={1642} size={18} anchor="start">{corrRows[0]}</T>
      <T x={1345} y={1729} size={18} anchor="start">{corrRows[1]}</T>
      <T x={997} y={1620} size={18}>1</T>
      <T x={992} y={1736} size={18}>-1</T>
      <Box x1={988.6} y1={1636} x2={996} y2={1717} style={{ background: "linear-gradient(to bottom, #f9c321 0%, #d97f2a 25%, #c9bfae 50%, #2f7fc8 75%, #39b6ec 100%)" }} />
      <T x={952.6} y={1681} size={18} rot={-90}>Correlation</T>
      <T x={976.4} y={1681} size={18} rot={-90}>score</T>
    </>
  );
}

export default function App() {
  return (
    <div style={{ position: "absolute", left: 0, top: 0, width: 1392, height: 1800, background: "#fff", overflow: "hidden" }}>
      <T x={6.5} y={13} size={24} bold>a</T>
      <T x={581} y={12} size={24} bold>b</T>
      <T x={581} y={307} size={24} bold>c</T>
      <T x={581} y={1180} size={24} bold>f</T>
      <T x={584} y={1527} size={24} bold>g</T>
      <T x={989} y={1525} size={24} bold>h</T>
      {aLayout.map((_, row) => <FacetRow key={row} row={row} />)}
      <PcaPanel />
      <DistPanel />
      <CdfPanel
        letter="d" letterX={581} left={673.7} width={234} domain={[-2.84, 7.56]} xTicks={[-2, 0, 2, 4, 6]} shifts={{ 2: 3, 4: 6, 6: 9 }}
        series={[indepControl, indepKO, indepY298F, indepWT]}
        title="DA-independent transcriptome" titleColor="#e8503a" titleX={797}
        ks={["Two-sample Kolmogorov-Smirnov test", "D (Y298F-MHD3KO) = 0.49, p < 2.2e-16", "D (Y298F-Control) = 0.063, p = 0.078"]} ksX={646.7}
        labX={777.5} ylX={615} legendText={776.7} legendLine={[842, 875]}
      />
      <CdfPanel
        letter="e" letterX={983} left={1050} width={234.3} domain={[-5.7, 7.03]} xTicks={[-4, -2, 0, 2, 4, 6]} shifts={{ 2: 3, 4: 5, 6: 7.5 }}
        series={[depControl, depKO, depY298F, depWT]}
        title="DA-dependent transcriptome" titleColor="#3d55a5" titleX={1161.7}
        ks={["Two-sample Kolmogorov-Smirnov test", "D (Y298F-MHD3KO) = 0.088, p = 0.062", "D (Y298F-Control) = 0.35, p < 2.2e-16"]} ksX={1026.7}
        labX={1154.5} ylX={990.7} legendText={1170.3} legendLine={[1237.7, 1271]}
      />
      <ZPanel />
      <GoPanel />
      <CorrPanel />
    </div>
  );
}
